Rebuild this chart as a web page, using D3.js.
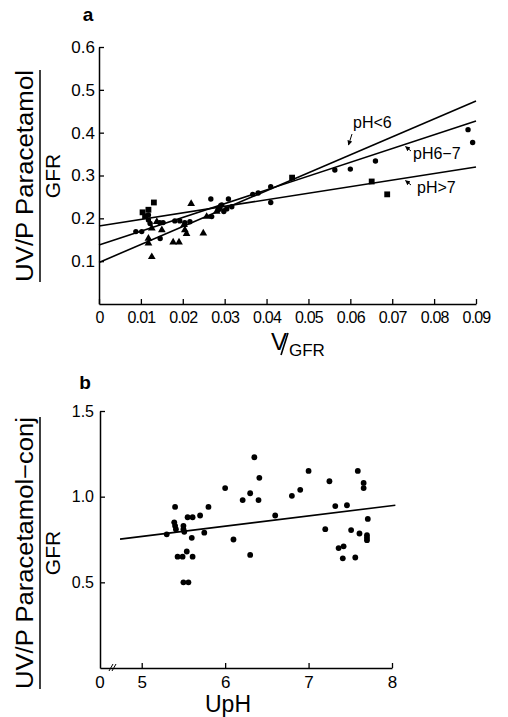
<!DOCTYPE html>
<html>
<head>
<meta charset="utf-8">
<script src="https://cdn.jsdelivr.net/npm/d3@7"></script>
<style>
  body { margin: 0; background: #fff; }
  svg { font-family: "Liberation Sans", Arial, sans-serif; }
</style>
</head>
<body>
<div id="chart"></div>
<script>
// panel a: V/GFR vs UV/P paracetamol / GFR
const aCircles = [
  [0.0088, 0.169], [0.0102, 0.169], [0.0118, 0.208], [0.0118, 0.196], [0.0122, 0.188],
  [0.0145, 0.19], [0.0153, 0.19], [0.0146, 0.153], [0.0181, 0.194], [0.0193, 0.194],
  [0.0205, 0.19], [0.0217, 0.192], [0.0267, 0.245], [0.0269, 0.204], [0.0285, 0.22],
  [0.0293, 0.231], [0.0298, 0.216], [0.0305, 0.222], [0.0309, 0.245], [0.0317, 0.227],
  [0.0367, 0.256], [0.038, 0.259], [0.041, 0.274], [0.041, 0.237], [0.0563, 0.313],
  [0.06, 0.315], [0.066, 0.334], [0.0881, 0.407], [0.0892, 0.377]
];
const aSquares = [
  [0.0104, 0.214], [0.011, 0.205], [0.0118, 0.22], [0.0131, 0.237],
  [0.0461, 0.295], [0.0651, 0.286], [0.0688, 0.256]
];
const aTriangles = [
  [0.0138, 0.192], [0.0126, 0.177], [0.015, 0.173], [0.0118, 0.153], [0.0118, 0.142],
  [0.0126, 0.11], [0.0177, 0.144], [0.0191, 0.144], [0.0203, 0.185], [0.0205, 0.173],
  [0.0209, 0.164], [0.022, 0.234], [0.0249, 0.165], [0.0257, 0.204], [0.0281, 0.216],
  [0.0287, 0.226]
];
const fitLabels = ["pH<6", "pH6\u22127", "pH>7"];
const fitStart = [0.097, 0.138, 0.182];   // value at V/GFR = 0
const fitEnd = [0.474, 0.427, 0.32];      // value at V/GFR = 0.09
const aXTicks = [0, 0.01, 0.02, 0.03, 0.04, 0.05, 0.06, 0.07, 0.08, 0.09];
const aYTicks = [0.1, 0.2, 0.3, 0.4, 0.5, 0.6];

// panel b: urine pH vs UV/P paracetamol-conj / GFR
const bPoints = [
  [5.30, 0.78], [5.40, 0.94], [5.39, 0.85], [5.40, 0.83], [5.41, 0.81], [5.50, 0.83],
  [5.50, 0.81], [5.51, 0.795], [5.43, 0.65], [5.49, 0.65], [5.54, 0.68], [5.61, 0.65],
  [5.55, 0.88], [5.61, 0.88], [5.60, 0.76], [5.50, 0.50], [5.56, 0.50], [5.70, 0.89],
  [5.75, 0.79], [5.80, 0.94], [6.00, 1.05], [6.10, 0.75], [6.21, 0.98], [6.30, 1.02],
  [6.30, 0.66], [6.35, 1.23], [6.41, 1.11], [6.40, 0.98], [6.60, 0.89], [6.80, 1.005],
  [6.90, 1.04], [7.00, 1.15], [7.20, 0.81], [7.25, 1.09], [7.32, 0.945], [7.36, 0.70],
  [7.42, 0.71], [7.41, 0.64], [7.46, 0.95], [7.51, 0.805], [7.56, 0.645], [7.59, 1.15],
  [7.61, 0.785], [7.66, 1.08], [7.66, 1.05], [7.71, 0.87], [7.70, 0.775], [7.70, 0.76],
  [7.70, 0.746]
];
const bFit = [[4.74, 0.752], [8.04, 0.95]];
const bXTicks = [5, 6, 7, 8];
const bYTicks = [0.5, 1.0, 1.5];

const width = 508, height = 717;
const svg = d3.select("#chart").append("svg")
  .attr("width", width)
  .attr("height", height);

const xA = d3.scaleLinear().domain([0, 0.09]).range([99, 476]);
const yA = d3.scaleLinear().domain([0, 0.6]).range([304, 47]);
const xB = d3.scaleLinear().domain([4.5, 8]).range([100, 392]);
const yB = d3.scaleLinear().domain([0, 1.5]).range([668, 411]);

function styleAxis(g, size) {
  g.select(".domain").attr("stroke", "#000").attr("stroke-width", 1.5);
  g.selectAll(".tick line").attr("stroke", "#000").attr("stroke-width", 1.3);
  g.selectAll(".tick text").attr("fill", "#000").attr("font-size", size);
}

// ---- panel a ----
const gA = svg.append("g");

gA.append("g")
  .attr("transform", `translate(0,${yA(0)})`)
  .call(d3.axisBottom(xA).tickValues(aXTicks).tickSize(-5).tickSizeOuter(0).tickPadding(8)
    .tickFormat(d => d === 0 ? "0" : d.toFixed(2)))
  .call(g => styleAxis(g, 16))
  .call(g => g.selectAll(".tick text").attr("letter-spacing", -0.8));

gA.append("g")
  .attr("transform", `translate(${xA(0)},0)`)
  .call(d3.axisLeft(yA).tickValues(aYTicks).tickSize(-5).tickSizeOuter(0).tickPadding(4)
    .tickFormat(d3.format(".1f")))
  .call(g => styleAxis(g, 17));

// regression lines
const fitLine = d3.line().x(d => xA(d[0])).y(d => yA(d[1]));
gA.append("g").selectAll("path")
  .data(fitStart.map((s, i) => [[0, s], [0.09, fitEnd[i]]]))
  .join("path")
  .attr("d", fitLine)
  .attr("fill", "none")
  .attr("stroke", "#000")
  .attr("stroke-width", 1.6);

// symbols
gA.append("g").selectAll("circle")
  .data(aCircles)
  .join("circle")
  .attr("cx", d => xA(d[0]))
  .attr("cy", d => yA(d[1]))
  .attr("r", 2.7)
  .attr("fill", "#000");

gA.append("g").selectAll("path")
  .data(aSquares)
  .join("path")
  .attr("transform", d => `translate(${xA(d[0])},${yA(d[1])})`)
  .attr("d", d3.symbol(d3.symbolSquare, 34))
  .attr("fill", "#000");

gA.append("g").selectAll("path")
  .data(aTriangles)
  .join("path")
  .attr("transform", d => `translate(${xA(d[0])},${yA(d[1])})`)
  .attr("d", d3.symbol(d3.symbolTriangle, 26))
  .attr("fill", "#000");

// line labels with little arrows
const labelPos = [[353, 128], [413, 159], [417, 193]];
const arrows = [
  [[352, 134], [348.5, 145]],
  [[411, 151], [405.5, 146.5]],
  [[411, 185], [405.5, 180.5]]
];
gA.append("g").selectAll("text")
  .data(fitLabels)
  .join("text")
  .attr("x", (d, i) => labelPos[i][0])
  .attr("y", (d, i) => labelPos[i][1])
  .attr("font-size", 16)
  .text(d => d);

svg.append("defs").append("marker")
  .attr("id", "head")
  .attr("viewBox", "0 0 10 10")
  .attr("refX", 9).attr("refY", 5)
  .attr("markerWidth", 5).attr("markerHeight", 5)
  .attr("orient", "auto")
  .append("path").attr("d", "M0,0L10,5L0,10z").attr("fill", "#000");

gA.append("g").selectAll("line")
  .data(arrows)
  .join("line")
  .attr("x1", d => d[0][0]).attr("y1", d => d[0][1])
  .attr("x2", d => d[1][0]).attr("y2", d => d[1][1])
  .attr("stroke", "#000")
  .attr("stroke-width", 1)
  .attr("marker-end", "url(#head)");

// panel letter and axis titles
gA.append("text")
  .attr("x", 88).attr("y", 21)
  .attr("text-anchor", "middle")
  .attr("font-size", 19).attr("font-weight", "bold")
  .text("a");

// V/GFR drawn as three pieces so they don't collide
gA.append("text").attr("x", 271).attr("y", 350).attr("font-size", 24).text("V");
gA.append("line")
  .attr("x1", 288).attr("y1", 333).attr("x2", 281).attr("y2", 355)
  .attr("stroke", "#000").attr("stroke-width", 1.6);
gA.append("text").attr("x", 289).attr("y", 356).attr("font-size", 17).text("GFR");

const ylabA = gA.append("g").attr("transform", "translate(33,176) rotate(-90)");
ylabA.append("text")
  .attr("text-anchor", "middle")
  .attr("font-size", 23)
  .attr("textLength", 212)
  .attr("lengthAdjust", "spacingAndGlyphs")
  .text("UV/P Paracetamol");
ylabA.append("line")
  .attr("x1", -106).attr("x2", 106)
  .attr("y1", 7).attr("y2", 7)
  .attr("stroke", "#000").attr("stroke-width", 1.5);
ylabA.append("text")
  .attr("y", 27)
  .attr("text-anchor", "middle")
  .attr("font-size", 21)
  .text("GFR");

// ---- panel b ----
const gB = svg.append("g");

gB.append("g")
  .attr("transform", `translate(0,${yB(0)})`)
  .call(d3.axisBottom(xB).tickValues(bXTicks).tickSize(-5).tickSizeOuter(0).tickPadding(8)
    .tickFormat(d3.format("d")))
  .call(g => styleAxis(g, 17));

// "0" at origin and axis break
gB.append("text")
  .attr("x", xB(4.5)).attr("y", yB(0) + 20)
  .attr("text-anchor", "middle")
  .attr("font-size", 17)
  .text("0");
gB.append("g").selectAll("line")
  .data([0, 1])
  .join("line")
  .attr("x1", d => 109 + d * 3).attr("y1", yB(0) + 3)
  .attr("x2", d => 113 + d * 3).attr("y2", yB(0) - 4)
  .attr("stroke", "#000").attr("stroke-width", 1);

gB.append("g")
  .attr("transform", `translate(${xB(4.5)},0)`)
  .call(d3.axisLeft(yB).tickValues(bYTicks).tickSize(-5).tickSizeOuter(0).tickPadding(6)
    .tickFormat(d3.format(".1f")))
  .call(g => styleAxis(g, 16));

gB.append("path")
  .datum(bFit)
  .attr("d", d3.line().x(d => xB(d[0])).y(d => yB(d[1])))
  .attr("fill", "none")
  .attr("stroke", "#000")
  .attr("stroke-width", 1.6);

gB.append("g").selectAll("circle")
  .data(bPoints)
  .join("circle")
  .attr("cx", d => xB(d[0]))
  .attr("cy", d => yB(d[1]))
  .attr("r", 2.9)
  .attr("fill", "#000");

gB.append("text")
  .attr("x", 85).attr("y", 389)
  .attr("text-anchor", "middle")
  .attr("font-size", 19).attr("font-weight", "bold")
  .text("b");

gB.append("text")
  .attr("x", 228).attr("y", 712)
  .attr("text-anchor", "middle")
  .attr("font-size", 23)
  .text("UpH");

const ylabB = gB.append("g").attr("transform", "translate(33,553) rotate(-90)");
ylabB.append("text")
  .attr("text-anchor", "middle")
  .attr("font-size", 23)
  .attr("textLength", 272)
  .attr("lengthAdjust", "spacingAndGlyphs")
  .text("UV/P Paracetamol\u2212conj");
ylabB.append("line")
  .attr("x1", -136).attr("x2", 136)
  .attr("y1", 7).attr("y2", 7)
  .attr("stroke", "#000").attr("stroke-width", 1.5);
ylabB.append("text")
  .attr("y", 27)
  .attr("text-anchor", "middle")
  .attr("font-size", 21)
  .text("GFR");
</script>
</body>
</html>
